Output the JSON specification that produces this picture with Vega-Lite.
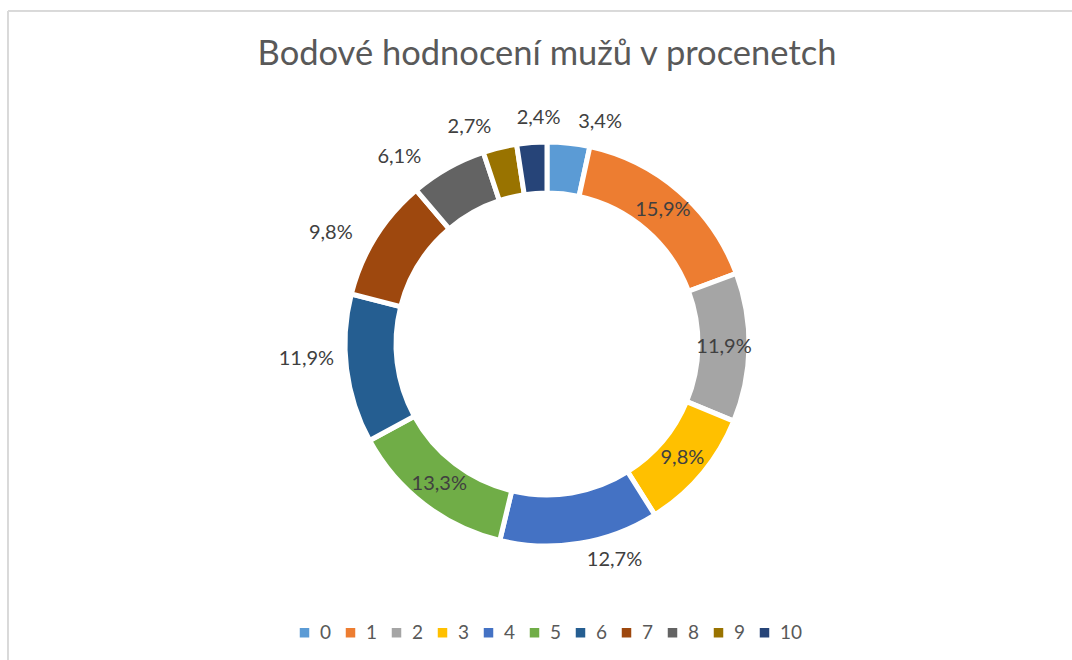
{
  "$schema": "https://vega.github.io/schema/vega-lite/v6.json",
  "width": 1078,
  "height": 666,
  "autosize": {"type": "none"},
  "padding": {"left": 8, "top": 11, "right": 0, "bottom": 0},
  "background": "white",
  "title": {
    "text": "Bodové hodnocení mužů v procenetch",
    "font": "Lato",
    "fontSize": 34.5,
    "fontWeight": "normal",
    "color": "#595959",
    "anchor": "middle",
    "orient": "top",
    "offset": 0,
    "baseline": "alphabetic",
    "dy": 89
  },
  "data": {
    "values": [
      {"k": "0", "n": 0, "v": 3.4},
      {"k": "1", "n": 1, "v": 15.9},
      {"k": "2", "n": 2, "v": 11.9},
      {"k": "3", "n": 3, "v": 9.8},
      {"k": "4", "n": 4, "v": 12.7},
      {"k": "5", "n": 5, "v": 13.3},
      {"k": "6", "n": 6, "v": 11.9},
      {"k": "7", "n": 7, "v": 9.8},
      {"k": "8", "n": 8, "v": 6.1},
      {"k": "9", "n": 9, "v": 2.7},
      {"k": "10", "n": 10, "v": 2.4}
    ]
  },
  "transform": [
    {"calculate": "replace(format(datum.v, '.1f'), '.', ',') + '%'", "as": "lbl"}
  ],
  "layer": [
    {
      "mark": {"type": "rect", "fill": null, "stroke": "#d9d9d9", "strokeWidth": 1},
      "encoding": {}
    },
    {
      "mark": {"type": "arc", "outerRadius": 202, "innerRadius": 151, "stroke": "white", "strokeWidth": 5},
      "encoding": {
        "theta": {"field": "v", "type": "quantitative", "stack": true},
        "order": {"field": "n", "type": "quantitative"},
        "color": {
          "field": "k",
          "type": "nominal",
          "scale": {
            "domain": ["0", "1", "2", "3", "4", "5", "6", "7", "8", "9", "10"],
            "range": ["#5B9BD5", "#ED7D31", "#A5A5A5", "#FFC000", "#4472C4", "#70AD47", "#255E91", "#9E480E", "#636363", "#997300", "#264478"]
          },
          "legend": {
            "orient": "none",
            "legendX": 287,
            "legendY": 612,
            "direction": "horizontal",
            "title": null
          }
        }
      }
    },
    {
      "mark": {"type": "text", "radius": 177, "font": "Lato", "fontSize": 20, "color": "#404040", "align": "center", "baseline": "middle"},
      "encoding": {
        "theta": {"field": "v", "type": "quantitative", "stack": true},
        "order": {"field": "n", "type": "quantitative"},
        "text": {"field": "lbl"},
        "opacity": {"condition": {"test": "indexof(['1','2','3','5'], datum.k) >= 0", "value": 1}, "value": 0}
      }
    },
    {
      "mark": {"type": "text", "radius": 228, "thetaOffset": 0.128, "font": "Lato", "fontSize": 20, "color": "#404040", "align": "center", "baseline": "middle"},
      "encoding": {
        "theta": {"field": "v", "type": "quantitative", "stack": true},
        "order": {"field": "n", "type": "quantitative"},
        "text": {"field": "lbl"},
        "opacity": {"condition": {"test": "datum.k == '0'", "value": 1}, "value": 0}
      }
    },
    {
      "mark": {"type": "text", "radius": 226, "thetaOffset": -0.14, "font": "Lato", "fontSize": 20, "color": "#404040", "align": "center", "baseline": "middle"},
      "encoding": {
        "theta": {"field": "v", "type": "quantitative", "stack": true},
        "order": {"field": "n", "type": "quantitative"},
        "text": {"field": "lbl"},
        "opacity": {"condition": {"test": "datum.k == '4'", "value": 1}, "value": 0}
      }
    },
    {
      "mark": {"type": "text", "radius": 241, "thetaOffset": 0.063, "font": "Lato", "fontSize": 20, "color": "#404040", "align": "center", "baseline": "middle"},
      "encoding": {
        "theta": {"field": "v", "type": "quantitative", "stack": true},
        "order": {"field": "n", "type": "quantitative"},
        "text": {"field": "lbl"},
        "opacity": {"condition": {"test": "datum.k == '6'", "value": 1}, "value": 0}
      }
    },
    {
      "mark": {"type": "text", "radius": 243, "thetaOffset": -0.084, "font": "Lato", "fontSize": 20, "color": "#404040", "align": "center", "baseline": "middle"},
      "encoding": {
        "theta": {"field": "v", "type": "quantitative", "stack": true},
        "order": {"field": "n", "type": "quantitative"},
        "text": {"field": "lbl"},
        "opacity": {"condition": {"test": "datum.k == '7'", "value": 1}, "value": 0}
      }
    },
    {
      "mark": {"type": "text", "radius": 238, "thetaOffset": -0.157, "font": "Lato", "fontSize": 20, "color": "#404040", "align": "center", "baseline": "middle"},
      "encoding": {
        "theta": {"field": "v", "type": "quantitative", "stack": true},
        "order": {"field": "n", "type": "quantitative"},
        "text": {"field": "lbl"},
        "opacity": {"condition": {"test": "datum.k == '8'", "value": 1}, "value": 0}
      }
    },
    {
      "mark": {"type": "text", "radius": 230, "thetaOffset": -0.108, "font": "Lato", "fontSize": 20, "color": "#404040", "align": "center", "baseline": "middle"},
      "encoding": {
        "theta": {"field": "v", "type": "quantitative", "stack": true},
        "order": {"field": "n", "type": "quantitative"},
        "text": {"field": "lbl"},
        "opacity": {"condition": {"test": "datum.k == '9'", "value": 1}, "value": 0}
      }
    },
    {
      "mark": {"type": "text", "radius": 226, "thetaOffset": 0.038, "font": "Lato", "fontSize": 20, "color": "#404040", "align": "center", "baseline": "middle"},
      "encoding": {
        "theta": {"field": "v", "type": "quantitative", "stack": true},
        "order": {"field": "n", "type": "quantitative"},
        "text": {"field": "lbl"},
        "opacity": {"condition": {"test": "datum.k == '10'", "value": 1}, "value": 0}
      }
    }
  ],
  "config": {
    "view": {"stroke": null},
    "legend": {
      "symbolType": "square",
      "symbolSize": 90,
      "symbolStrokeWidth": 0,
      "labelFont": "Lato",
      "labelFontSize": 19,
      "labelColor": "#595959",
      "labelOffset": 6,
      "columnPadding": 9,
      "padding": 0
    }
  }
}
